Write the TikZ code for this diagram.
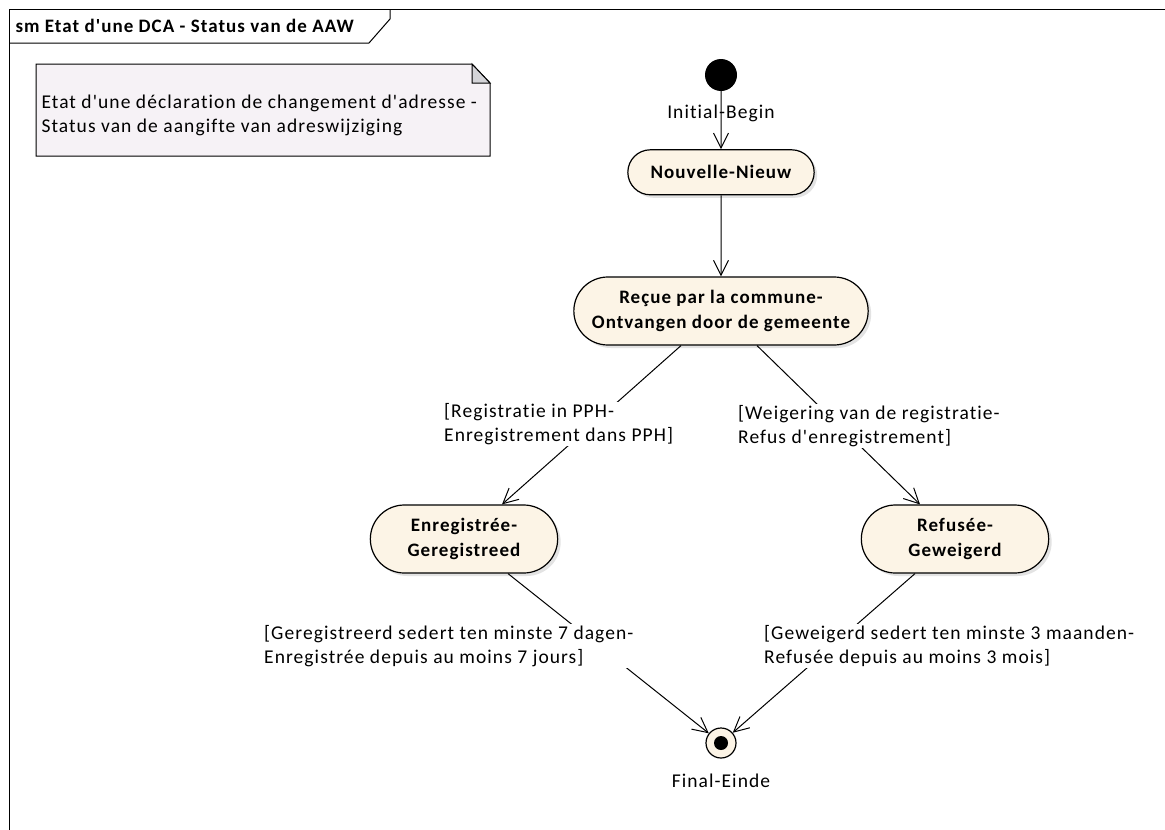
\documentclass[tikz,border=0pt]{standalone}
\usepackage{fontspec}
\setmainfont{Carlito}[Ligatures={TeXOff,NoCommon}, LetterSpace=5.5]
\usetikzlibrary{positioning,shapes.misc,shadows,arrows.meta}
\definecolor{statefill}{RGB}{252,244,230}
\definecolor{notefill}{RGB}{246,242,246}
\definecolor{foldfill}{RGB}{212,212,216}
\tikzset{
  statebox/.style={rounded rectangle, draw=black, line width=1.2pt, fill=statefill,
    font=\fontsize{19}{25}\selectfont\bfseries, align=center,
    drop shadow={shadow xshift=3pt, shadow yshift=-3pt, fill=black!22}},
  guardlabel/.style={fill=white, align=left, inner sep=1pt},
  trans/.style={-{Straight Barb[length=15pt,width=15pt]}, line width=1pt},
}

\begin{document}
\begin{tikzpicture}[x=1pt, y=-1pt, font=\fontsize{19.5}{24}\selectfont]
        \useasboundingbox (0,0) rectangle (1165,830);
        \clip (0,0) rectangle (1165,830);

        % frame
        \draw[line width=1pt] (9,840) -- (9,9) -- (1175,9);
        \draw[line width=1pt] (9,43) -- (369,43) -- (390,19) -- (390,9);
        \node[anchor=west, font=\fontsize{19}{23}\selectfont\bfseries](title) at (12,26) {sm Etat d'une DCA - Status van de AAW};

        % note
        \draw[line width=1pt, fill=notefill] (36,64) -- (472,64) -- (490,83) -- (490,156) -- (36,156) -- cycle;
        \draw[line width=1pt, fill=foldfill] (472,64) -- (472,83) -- (490,83) -- cycle;
        \node[anchor=west, align=left](note) at (38,115) {Etat d'une déclaration de changement d'adresse -\\Status van de aangifte van adreswijziging};

        % states
        \node[circle, fill=black, minimum size=32pt, inner sep=0pt](init) at (721,75) {};
        \node[statebox, minimum width=193pt, minimum height=45pt](nouvelle) [below=58pt of init] {Nouvelle-Nieuw};
        \node[statebox, minimum width=301pt, minimum height=68pt](recue) [below=81pt of nouvelle] {Reçue par la commune-\\Ontvangen door de gemeente};
        \node[statebox, minimum width=194pt, minimum height=68pt](enreg) at (464,539) {Enregistrée-\\Geregistreed};
        \node[statebox, minimum width=194pt, minimum height=68pt](refus) at (955,539) {Refusée-\\Geweigerd};
        \node[circle, draw=black, line width=1.2pt, fill=statefill, minimum size=30pt, inner sep=0pt](final) at (721,743) {};
        \node[circle, fill=black, minimum size=14pt, inner sep=0pt](finaldot) at (final) {};
        \node(finallabel) [below=12pt of final] {Final-Einde};

        % transitions
        \draw[trans] (init) -- node[pos=0.38](initlabel) {Initial-Begin} (nouvelle);
        \draw[trans] (nouvelle) -- (recue);
        \draw[trans] ([xshift=-40pt]recue.south) -- ([xshift=38pt]enreg.north);
        \draw[trans] ([xshift=36pt]recue.south) -- ([xshift=-35pt]refus.north);
        \draw[trans] ([xshift=44pt]enreg.south) -- (final);
        \draw[trans] ([xshift=-40pt]refus.south) -- (final);

        % guards
        \node[guardlabel, anchor=west](guardreg) at (443,424) {[Registratie in PPH-\\Enregistrement dans PPH]};
        \node[guardlabel, anchor=west](guardweig) at (737,426) {[Weigering van de registratie-\\Refus d'enregistrement]};
        \node[guardlabel, anchor=west](guardgereg) at (263,646) {[Geregistreerd sedert ten minste 7 dagen-\\Enregistrée depuis au moins 7 jours]};
        \node[guardlabel, anchor=west](guardgew) at (763,646) {[Geweigerd sedert ten minste 3 maanden-\\Refusée depuis au moins 3 mois]};
    \end{tikzpicture}
\end{document}
